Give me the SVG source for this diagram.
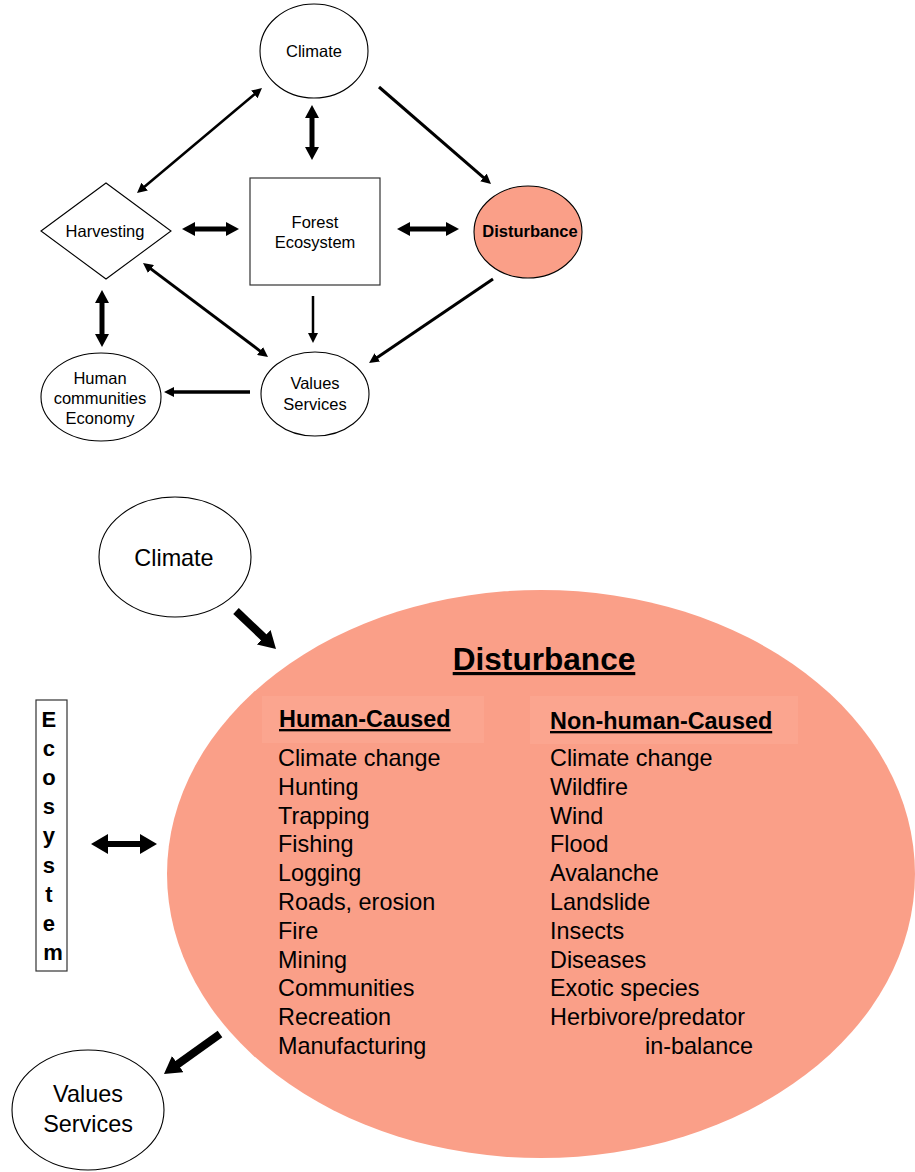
<svg xmlns="http://www.w3.org/2000/svg" width="915" height="1172" viewBox="0 0 915 1172">
  <style>
    .node { fill: #ffffff; stroke: #000000; stroke-width: 1.1; }
    .dist { fill: #fa9f88; stroke: #000000; stroke-width: 1.1; }
    .box  { fill: #ffffff; stroke: #333333; stroke-width: 1.2; }
    .t    { font-family: "Liberation Sans", Arial, sans-serif; fill: #000000; }
    .sm   { font-size: 16.5px; text-anchor: middle; }
    .lg   { font-size: 23.4px; }
    .mid  { text-anchor: middle; }
    .b    { font-weight: bold; }
    .u    { text-decoration: underline; }
    .c    { stroke: #000000; fill: none; }
  </style>
  <defs>
    <marker id="hs" viewBox="0 0 10 10" refX="1" refY="5" markerWidth="10" markerHeight="10" markerUnits="userSpaceOnUse" orient="auto-start-reverse">
      <path d="M0,0 L10,5 L0,10 z" fill="#000"/>
    </marker>
    <marker id="hm" viewBox="0 0 13 14" refX="1" refY="7" markerWidth="13" markerHeight="14" markerUnits="userSpaceOnUse" orient="auto-start-reverse">
      <path d="M0,0 L13,7 L0,14 z" fill="#000"/>
    </marker>
    <marker id="hl" viewBox="0 0 17 20" refX="1" refY="10" markerWidth="17" markerHeight="20" markerUnits="userSpaceOnUse" orient="auto-start-reverse">
      <path d="M0,0 L17,10 L0,20 z" fill="#000"/>
    </marker>
  </defs>

  <!-- ===== Upper diagram ===== -->
  <g id="climate-top">
    <ellipse class="node" cx="314" cy="51" rx="54" ry="47"/>
    <text class="t sm" x="314" y="57">Climate</text>
  </g>
  <g id="forest-ecosystem">
    <rect class="box" x="250" y="178" width="130" height="107"/>
    <text class="t sm" x="315" y="228">Forest</text>
    <text class="t sm" x="315" y="248">Ecosystem</text>
  </g>
  <g id="harvesting">
    <polygon class="node" points="41,231 106,183 171,231 106,279"/>
    <text class="t sm" x="105" y="237">Harvesting</text>
  </g>
  <g id="disturbance-top">
    <ellipse class="dist" cx="528" cy="232" rx="54" ry="46"/>
    <text class="t sm b" x="530" y="237" font-size="16">Disturbance</text>
  </g>
  <g id="human-communities">
    <ellipse class="node" cx="101" cy="397" rx="60" ry="44"/>
    <text class="t sm" x="100" y="384">Human</text>
    <text class="t sm" x="100" y="404">communities</text>
    <text class="t sm" x="100" y="424">Economy</text>
  </g>
  <g id="values-top">
    <ellipse class="node" cx="315" cy="394" rx="54" ry="42"/>
    <text class="t sm" x="315" y="389">Values</text>
    <text class="t sm" x="315" y="410">Services</text>
  </g>

  <!-- ===== Lower diagram ===== -->
  <g id="disturbance-main">
    <ellipse cx="541" cy="874" rx="374" ry="284" fill="#fa9f88"/>
    <rect x="262" y="696" width="222" height="47" fill="#fba58f"/>
    <rect x="530" y="696" width="268" height="48" fill="#fba58f"/>
    <text class="t b u mid" x="544" y="670" font-size="31.6">Disturbance</text>
    <text class="t lg b u" x="279" y="727">Human-Caused</text>
    <text class="t lg b u" x="550" y="729">Non-human-Caused</text>
    <text class="t lg" x="278" y="766">
      <tspan x="278">Climate change</tspan>
      <tspan x="278" dy="28.8">Hunting</tspan>
      <tspan x="278" dy="28.8">Trapping</tspan>
      <tspan x="278" dy="28.8">Fishing</tspan>
      <tspan x="278" dy="28.8">Logging</tspan>
      <tspan x="278" dy="28.8">Roads, erosion</tspan>
      <tspan x="278" dy="28.8">Fire</tspan>
      <tspan x="278" dy="28.8">Mining</tspan>
      <tspan x="278" dy="28.8">Communities</tspan>
      <tspan x="278" dy="28.8">Recreation</tspan>
      <tspan x="278" dy="28.8">Manufacturing</tspan>
    </text>
    <text class="t lg" x="550" y="766">
      <tspan x="550">Climate change</tspan>
      <tspan x="550" dy="28.8">Wildfire</tspan>
      <tspan x="550" dy="28.8">Wind</tspan>
      <tspan x="550" dy="28.8">Flood</tspan>
      <tspan x="550" dy="28.8">Avalanche</tspan>
      <tspan x="550" dy="28.8">Landslide</tspan>
      <tspan x="550" dy="28.8">Insects</tspan>
      <tspan x="550" dy="28.8">Diseases</tspan>
      <tspan x="550" dy="28.8">Exotic species</tspan>
      <tspan x="550" dy="28.8">Herbivore/predator</tspan>
      <tspan x="645" dy="28.8">in-balance</tspan>
    </text>
  </g>
  <g id="climate-main">
    <ellipse class="node" cx="175" cy="557" rx="76" ry="60"/>
    <text class="t lg mid" x="174" y="566">Climate</text>
  </g>
  <g id="ecosystem-main">
    <rect class="box" x="36" y="700" width="31" height="271"/>
    <text class="t b mid" font-size="22" x="52" y="727">
      <tspan x="52">E</tspan>
      <tspan x="52" dy="29.1">c</tspan>
      <tspan x="52" dy="29.1">o</tspan>
      <tspan x="52" dy="29.1">s</tspan>
      <tspan x="52" dy="29.1">y</tspan>
      <tspan x="52" dy="29.1">s</tspan>
      <tspan x="52" dy="29.1">t</tspan>
      <tspan x="52" dy="29.1">e</tspan>
      <tspan x="53" dy="29.1">m</tspan>
    </text>
  </g>
  <g id="values-main">
    <ellipse class="node" cx="88" cy="1110" rx="76" ry="60"/>
    <text class="t lg mid" x="88" y="1102">Values</text>
    <text class="t lg mid" x="88" y="1132">Services</text>
  </g>

  <!-- ===== Connectors ===== -->
  <g id="connectors">
    <!-- upper diagram -->
    <line class="c" x1="255.1" y1="93.8" x2="143.9" y2="187.2" stroke-width="2.5" marker-start="url(#hs)" marker-end="url(#hs)"/>
    <line class="c" x1="312" y1="117" x2="312" y2="148" stroke-width="5" marker-start="url(#hm)" marker-end="url(#hm)"/>
    <line class="c" x1="379" y1="87" x2="484.2" y2="178.1" stroke-width="3"  marker-end="url(#hs)"/>
    <line class="c" x1="194" y1="229" x2="227" y2="229" stroke-width="5" marker-start="url(#hm)" marker-end="url(#hm)"/>
    <line class="c" x1="409" y1="229" x2="447" y2="229" stroke-width="5" marker-start="url(#hm)" marker-end="url(#hm)"/>
    <line class="c" x1="150.2" y1="268.4" x2="260.8" y2="351.6" stroke-width="3" marker-start="url(#hs)" marker-end="url(#hs)"/>
    <line class="c" x1="313" y1="296" x2="313" y2="334" stroke-width="2.5" marker-end="url(#hs)"/>
    <line class="c" x1="493" y1="279" x2="376.5" y2="358" stroke-width="3" marker-end="url(#hs)"/>
    <line class="c" x1="102" y1="302" x2="102" y2="335" stroke-width="5" marker-start="url(#hm)" marker-end="url(#hm)"/>
    <line class="c" x1="250" y1="392" x2="173" y2="392" stroke-width="3.5" marker-end="url(#hs)"/>
    <!-- lower diagram -->
    <line class="c" x1="236" y1="611" x2="264.4" y2="638" stroke-width="8" marker-end="url(#hl)"/>
    <line class="c" x1="107" y1="844" x2="141" y2="844" stroke-width="6" marker-start="url(#hl)" marker-end="url(#hl)"/>
    <line class="c" x1="220" y1="1034" x2="177" y2="1064.7" stroke-width="8" marker-end="url(#hl)"/>
  </g>
</svg>
